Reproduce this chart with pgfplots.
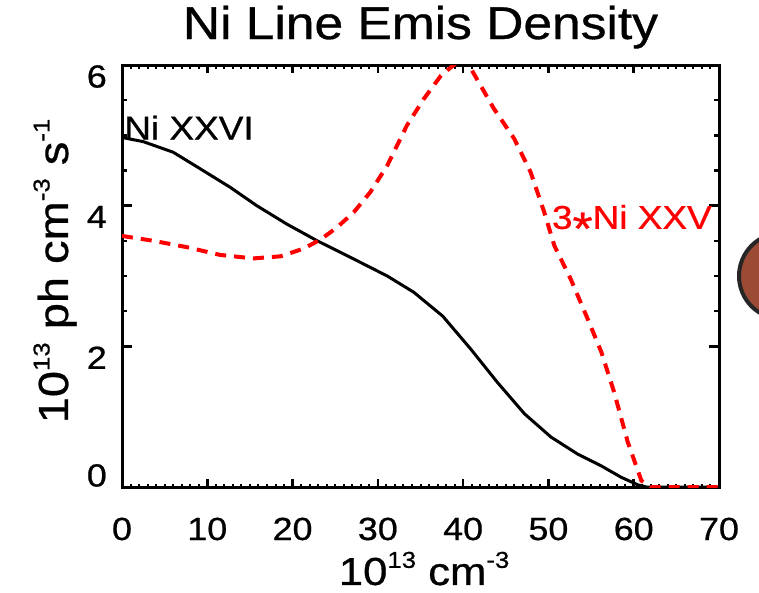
\documentclass[border=0pt]{standalone}
\usepackage{fontspec}
\setmainfont[FakeStretch=1.12, FakeBold=0.7]{Liberation Sans}
\usepackage{pgfplots}
\pgfplotsset{compat=1.18}
\definecolor{idlred}{RGB}{255,0,0}
\definecolor{ballbrown}{RGB}{155,75,53}
\newcommand{\sups}[1]{\raisebox{0.44em}{\fontsize{23}{23}\selectfont #1}}
\begin{document}
\begin{tikzpicture}[x=1pt,y=1pt]
\path[use as bounding box] (0,0) rectangle (759,592);
\fill[ballbrown, draw=black!85, line width=4pt] (782,316) circle (43);
\begin{axis}[
  at={(122pt,105pt)}, anchor=south west,
  scale only axis, width=597pt, height=422pt,
  xmin=0, xmax=70, ymin=0, ymax=6,
  axis line style={line width=3pt, black},
  tick align=inside,
  xtick={0,10,...,70}, minor x tick num=9,
  ytick={2,4,6}, minor y tick num=3,
  extra y ticks={0},
  extra y tick style={yticklabel style={anchor=south east}},
  xtick style={/pgfplots/major tick length=8pt, /pgfplots/minor tick length=3.5pt, line width=2.5pt, black},
  ytick style={/pgfplots/major tick length=10pt, /pgfplots/minor tick length=5pt, line width=2.5pt, black},
  minor x tick style={/pgfplots/minor tick length=3.5pt, line width=2pt},
  minor y tick style={/pgfplots/minor tick length=5pt, line width=2.5pt},
  /pgf/number format/assume math mode=true,
  tick label style={font=\fontsize{32}{38}\selectfont, inner sep=0pt},
  xticklabel style={anchor=base, yshift=-53pt},
  yticklabel style={anchor=north east, xshift=-15pt},
  title={Ni Line Emis Density},
  title style={at={(axis description cs:0.5,1.0474)}, anchor=base, inner sep=0pt, font=\fontsize{46}{52}\selectfont},
  xlabel={10\sups{13} cm\sups{-3}},
  xlabel style={at={(axis description cs:0.506,-0.2322)}, anchor=base, inner sep=0pt, font=\fontsize{39}{46}\selectfont},
  ylabel={10\sups{13} ph cm\sups{-3} s\sups{-1}},
  ylabel style={at={(axis description cs:-0.0905,0.5118)}, anchor=base, inner sep=0pt, font=\fontsize{42}{48}\selectfont},
]
\addplot[black, line width=3pt] coordinates {
(0,4.97) (2.5,4.91) (6,4.76) (9.5,4.50) (12.7,4.26) (15.8,4.00) (19.3,3.74)
(22.9,3.50) (27.2,3.24) (31.1,3.00) (34.2,2.77) (37.6,2.43) (40.9,1.96)
(44.0,1.49) (47.2,1.04) (50.3,0.71) (53.4,0.47) (56.2,0.30) (58.5,0.14)
(60.5,0.03) (61.5,0) (70,0)
};
\addplot[idlred, line width=4pt, dash pattern=on 11pt off 8pt] coordinates {
(0,3.57) (3.7,3.50) (7.6,3.41) (11.5,3.30) (15.4,3.25) (18.6,3.28) (21.3,3.39)
(23.3,3.52) (25.2,3.69) (27.2,3.91) (29.1,4.19) (31.1,4.57) (33.4,5.14)
(35.4,5.52) (37.4,5.85) (40.1,6.12) (43.6,5.38) (46.0,4.95) (47.9,4.48)
(49.5,3.91) (50.7,3.43) (52.6,2.96) (54.6,2.39) (56.2,1.92) (57.7,1.35)
(59.3,0.64) (60.9,0.09) (62,0) (70,0)
};
\node[anchor=base west, inner sep=0pt, font=\fontsize{33}{40}\selectfont] at (axis cs:0.25,4.94) {Ni XXVI};
\node[anchor=base west, inner sep=0pt, text=idlred, font=\fontsize{33}{40}\selectfont] at (axis cs:50.4,3.67) {3\raisebox{-0.47em}{\fontsize{46}{46}\selectfont *}Ni XXV};
\end{axis}
\end{tikzpicture}
\end{document}
